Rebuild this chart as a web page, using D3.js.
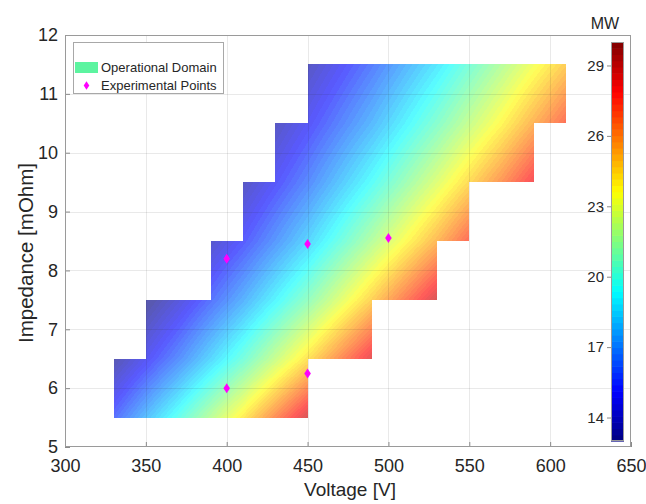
<!DOCTYPE html>
<html>
<head>
<meta charset="utf-8">
<script src="https://cdn.jsdelivr.net/npm/d3@7"></script>
<style>
  body { margin: 0; background: #fff; }
  svg { display: block; font-family: "Liberation Sans", Arial, sans-serif; }
</style>
</head>
<body>
<svg id="chart" width="646" height="504"></svg>
<script>
// ---- data ----
const voltageTicks = [300, 350, 400, 450, 500, 550, 600, 650];
const impedanceTicks = [5, 6, 7, 8, 9, 10, 11, 12];
const powerTicks = [14, 17, 20, 23, 26, 29];
const powerRange = [13, 30];

// operational domain: one row per 1 mOhm band
const rowImpedance = [5.5, 6.5, 7.5, 8.5, 9.5, 10.5];
const rowVoltageMin = [330, 350, 390, 410, 430, 450];
const rowVoltageMax = [450, 490, 530, 550, 590, 610];

// power [MW] at grid nodes (null = outside the domain, not used)
const gridVoltage = [330, 370, 410, 450, 490, 530, 570, 610];
const gridImpedance = [5.5, 6.5, 7.5, 8.5, 9.5, 10.5, 11.5];
const power_5_5  = [15.7, 19.8, 24.1, 28.9, null, null, null, null];
const power_6_5  = [13.1, 16.5, 20.2, 24.3, 28.6, null, null, null];
const power_7_5  = [11.3, 14.2, 17.4, 20.9, 24.8, 28.9, null, null];
const power_8_5  = [null, 12.4, 15.2, 18.3, 21.8, 25.4, 29.4, null];
const power_9_5  = [null, null, 13.6, 16.4, 19.5, 22.8, 26.3, 30.2];
const power_10_5 = [null, null, 12.3, 14.9, 17.6, 20.6, 23.8, 27.3];
const power_11_5 = [null, null, null, 13.6, 16.1, 18.8, 21.8, 24.9];
const powerGrid = [power_5_5, power_6_5, power_7_5, power_8_5, power_9_5, power_10_5, power_11_5];

// experimental points
const pointVoltage = [400, 400, 450, 450, 500];
const pointImpedance = [6.0, 8.2, 6.25, 8.45, 8.55];

// ---- layout ----
const plot = { left: 65, top: 35, right: 631, bottom: 447 };
const cbar = { left: 611, width: 13, top: 42, bottom: 441 };
const textColor = "#262626";
const fillAlpha = 0.65;

const svg = d3.select("#chart");

const x = d3.scaleLinear().domain([300, 650]).range([plot.left, plot.right]);
const y = d3.scaleLinear().domain([5, 12]).range([plot.bottom, plot.top]);
const cScale = d3.scaleLinear().domain(powerRange).range([0, 1]).clamp(true);

// MATLAB jet, 64 levels
const nLevels = 64;
function jet(t) {
    const k = Math.min(nLevels - 1, Math.max(0, Math.floor(t * nLevels)));
    const u = (k + 0.5) / nLevels;
    const cl = v => Math.max(0, Math.min(1, v));
    return [cl(1.5 - Math.abs(4 * u - 3)), cl(1.5 - Math.abs(4 * u - 2)), cl(1.5 - Math.abs(4 * u - 1))];
}

// bilinear lookup of power
function powerAt(v, z) {
    let j = d3.bisectRight(gridVoltage, v) - 1;
    j = Math.max(0, Math.min(gridVoltage.length - 2, j));
    let i = d3.bisectRight(gridImpedance, z) - 1;
    i = Math.max(0, Math.min(gridImpedance.length - 2, i));
    const tv = (v - gridVoltage[j]) / (gridVoltage[j + 1] - gridVoltage[j]);
    const tz = (z - gridImpedance[i]) / (gridImpedance[i + 1] - gridImpedance[i]);
    const p00 = powerGrid[i][j], p01 = powerGrid[i][j + 1];
    const p10 = powerGrid[i + 1][j], p11 = powerGrid[i + 1][j + 1];
    if ([p00, p01, p10, p11].some(p => p == null)) return null;
    return (p00 * (1 - tv) + p01 * tv) * (1 - tz) + (p10 * (1 - tv) + p11 * tv) * tz;
}

function inDomain(v, z) {
    const r = Math.floor(z - rowImpedance[0]);
    if (r < 0 || r >= rowImpedance.length) return false;
    return v >= rowVoltageMin[r] && v <= rowVoltageMax[r];
}

// ---- shaded surface (canvas -> image) ----
const W = plot.right - plot.left, H = plot.bottom - plot.top;
const canvas = document.createElement("canvas");
canvas.width = W; canvas.height = H;
const ctx = canvas.getContext("2d");
const img = ctx.createImageData(W, H);
for (let py = 0; py < H; py++) {
    const z = y.invert(plot.top + py + 0.5);
    for (let px = 0; px < W; px++) {
        const v = x.invert(plot.left + px + 0.5);
        if (!inDomain(v, z)) continue;
        const p = powerAt(v, z);
        if (p == null) continue;
        const c = jet(cScale(p));
        const o = (py * W + px) * 4;
        img.data[o] = Math.round(255 * (c[0] * fillAlpha + 1 - fillAlpha));
        img.data[o + 1] = Math.round(255 * (c[1] * fillAlpha + 1 - fillAlpha));
        img.data[o + 2] = Math.round(255 * (c[2] * fillAlpha + 1 - fillAlpha));
        img.data[o + 3] = 255;
    }
}
ctx.putImageData(img, 0, 0);

svg.append("rect")
    .attr("x", plot.left).attr("y", plot.top).attr("width", W).attr("height", H)
    .attr("fill", "#fff");

svg.append("image")
    .attr("x", plot.left).attr("y", plot.top)
    .attr("width", W).attr("height", H)
    .attr("href", canvas.toDataURL());

// ---- grid (on top, faint) ----
const grid = svg.append("g").attr("stroke", textColor).attr("stroke-opacity", 0.1).attr("stroke-width", 1);
grid.selectAll("line.gx").data(voltageTicks.slice(1, -1)).join("line")
    .attr("x1", d => Math.round(x(d)) + 0.5).attr("x2", d => Math.round(x(d)) + 0.5)
    .attr("y1", plot.top).attr("y2", plot.bottom);
grid.selectAll("line.gy").data(impedanceTicks.slice(1, -1)).join("line")
    .attr("y1", d => Math.round(y(d)) + 0.5).attr("y2", d => Math.round(y(d)) + 0.5)
    .attr("x1", plot.left).attr("x2", plot.right);

// ---- axes ----
const xAxis = d3.axisBottom(x).tickValues(voltageTicks).tickFormat(d3.format("d")).tickSize(-5).tickPadding(12);
const yAxis = d3.axisLeft(y).tickValues(impedanceTicks).tickFormat(d3.format("d")).tickSize(-5).tickPadding(7);

const gx = svg.append("g").attr("transform", `translate(0,${plot.bottom})`).call(xAxis);
const gy = svg.append("g").attr("transform", `translate(${plot.left},0)`).call(yAxis);
[gx, gy].forEach(g => {
    g.select(".domain").remove();
    g.selectAll(".tick line").attr("stroke", "#8a8a8a");
    g.selectAll(".tick text").attr("fill", textColor).style("font-size", "18px")
        .style("font-family", "'Liberation Sans', Arial, sans-serif");
});

// frame
svg.append("rect")
    .attr("x", plot.left + 0.5).attr("y", plot.top + 0.5)
    .attr("width", W - 1).attr("height", H - 1)
    .attr("fill", "none").attr("stroke", "#9a9a9a");

// axis titles
svg.append("text")
    .attr("x", (plot.left + plot.right) / 2 + 2).attr("y", 496)
    .attr("text-anchor", "middle").attr("fill", textColor)
    .style("font-size", "19px").text("Voltage [V]");
svg.append("text")
    .attr("transform", `translate(33,${(plot.top + plot.bottom) / 2 + 12}) rotate(-90)`)
    .attr("text-anchor", "middle").attr("fill", textColor)
    .style("font-size", "20.5px").text("Impedance [mOhm]");

// ---- experimental points ----
const diamond = "M0,-5L3.3,0L0,5L-3.3,0Z";
svg.append("g").selectAll("path")
    .data(pointVoltage.map((v, i) => [v, pointImpedance[i]]))
    .join("path")
    .attr("d", diamond)
    .attr("transform", d => `translate(${x(d[0])},${y(d[1])})`)
    .attr("fill", "#ff00ff");

// ---- legend ----
const legend = svg.append("g");
legend.append("rect")
    .attr("x", 73.5).attr("y", 42.5).attr("width", 150).attr("height", 51)
    .attr("fill", "#fff").attr("stroke", "#a8a8a8");
legend.append("rect")
    .attr("x", 75).attr("y", 62).attr("width", 23).attr("height", 11)
    .attr("fill", "rgb(92,244,160)");
legend.append("text").attr("x", 101).attr("y", 72).attr("fill", textColor)
    .style("font-size", "13px").text("Operational Domain");
legend.append("path").attr("d", diamond)
    .attr("transform", "translate(86.5,85.5) scale(0.85)").attr("fill", "#ff00ff");
legend.append("text").attr("x", 101).attr("y", 90).attr("fill", textColor)
    .style("font-size", "13px").text("Experimental Points");

// ---- colorbar ----
const cb = d3.scaleLinear().domain(powerRange).range([cbar.bottom, cbar.top]);
const levels = d3.range(nLevels);
const levelH = (cbar.bottom - cbar.top) / nLevels;
svg.append("g").selectAll("rect")
    .data(levels)
    .join("rect")
    .attr("x", cbar.left).attr("width", cbar.width)
    .attr("y", d => cbar.bottom - (d + 1) * levelH)
    .attr("height", levelH + 0.6)
    .attr("fill", d => {
        const c = jet((d + 0.5) / nLevels);
        return d3.rgb(c[0] * 255, c[1] * 255, c[2] * 255);
    });
svg.append("rect")
    .attr("x", cbar.left + 0.5).attr("y", cbar.top + 0.5)
    .attr("width", cbar.width - 1).attr("height", cbar.bottom - cbar.top - 1)
    .attr("fill", "none").attr("stroke", "#9a9a9a");

const cbAxis = d3.axisLeft(cb).tickValues(powerTicks).tickSize(4).tickPadding(3);
const gcb = svg.append("g").attr("transform", `translate(${cbar.left},0)`).call(cbAxis);
gcb.select(".domain").remove();
gcb.selectAll(".tick line").attr("stroke", "#8a8a8a");
gcb.selectAll(".tick text").attr("fill", textColor).style("font-size", "15px")
    .style("font-family", "'Liberation Sans', Arial, sans-serif");

svg.append("text")
    .attr("x", 605).attr("y", 29).attr("text-anchor", "middle")
    .attr("fill", textColor).style("font-size", "16px").text("MW");
</script>
</body>
</html>
